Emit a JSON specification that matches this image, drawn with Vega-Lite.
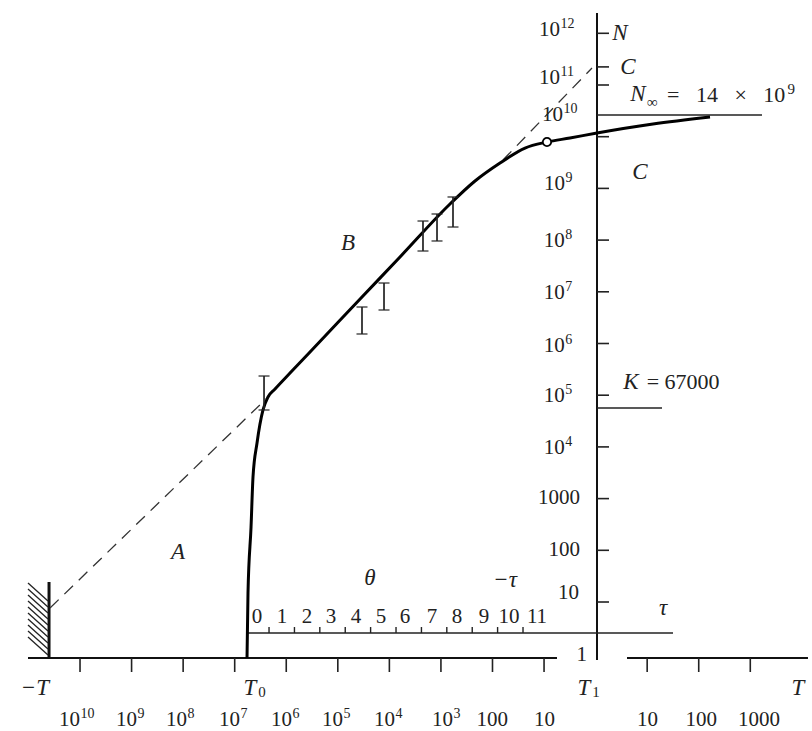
{
  "$schema": "https://vega.github.io/schema/vega-lite/v6.json",
  "width": 812,
  "height": 731,
  "padding": 0,
  "autosize": {"type": "fit", "contains": "padding"},
  "background": "white",
  "config": {"view": {"stroke": null}},
  "datasets": {
    "axes": [
      {"name": "bottom-left", "u1": -11.009, "u2": -0.749, "L1": -0.083, "L2": -0.083},
      {"name": "bottom-right", "u1": 0.609, "u2": 4.119, "L1": -0.083, "L2": -0.083},
      {"name": "N-axis", "u1": 0.027, "u2": 0.027, "L1": 12.393, "L2": -0.122}
    ],
    "wall": [
      {"name": "-T wall", "u1": -10.601, "u2": -10.601, "L1": 1.387, "L2": -0.083}
    ],
    "thin": [
      {"name": "theta axis", "u1": -6.742, "u2": 1.501, "L1": 0.4, "L2": 0.4},
      {"name": "N_inf", "u1": 0.027, "u2": 3.227, "L1": 10.42, "L2": 10.42},
      {"name": "K", "u1": 0.027, "u2": 1.288, "L1": 4.752, "L2": 4.752}
    ],
    "hatch": [
      {"u1": -11.009, "u2": -10.621, "L1": 1.368, "L2": 1.019},
      {"u1": -11.009, "u2": -10.621, "L1": 1.251, "L2": 0.903},
      {"u1": -11.009, "u2": -10.621, "L1": 1.135, "L2": 0.787},
      {"u1": -11.009, "u2": -10.621, "L1": 1.019, "L2": 0.671},
      {"u1": -11.009, "u2": -10.621, "L1": 0.903, "L2": 0.555},
      {"u1": -11.009, "u2": -10.621, "L1": 0.787, "L2": 0.439},
      {"u1": -11.009, "u2": -10.621, "L1": 0.671, "L2": 0.323},
      {"u1": -11.009, "u2": -10.621, "L1": 0.555, "L2": 0.207},
      {"u1": -11.009, "u2": -10.621, "L1": 0.439, "L2": 0.091},
      {"u1": -11.009, "u2": -10.621, "L1": 0.323, "L2": -0.025}
    ],
    "bticks": [
      {"u": -10}, {"u": -9}, {"u": -8}, {"u": -7}, {"u": -6}, {"u": -5}, {"u": -4}, {"u": -3}, {"u": -2}, {"u": -1},
      {"u": 1}, {"u": 2}, {"u": 3}
    ],
    "blabels": [
      {"u": -10.0, "b": "10", "e": "10"},
      {"u": -8.894, "b": "10", "e": "9"},
      {"u": -7.925, "b": "10", "e": "8"},
      {"u": -6.897, "b": "10", "e": "7"},
      {"u": -5.888, "b": "10", "e": "6"},
      {"u": -4.899, "b": "10", "e": "5"},
      {"u": -3.891, "b": "10", "e": "4"},
      {"u": -2.766, "b": "10", "e": "3"},
      {"u": -1.699, "b": "100", "e": ""},
      {"u": -0.787, "b": "10", "e": ""},
      {"u": 1.21, "b": "10", "e": ""},
      {"u": 2.354, "b": "100", "e": ""},
      {"u": 3.576, "b": "1000", "e": ""}
    ],
    "yticks": [
      {"L": 1}, {"L": 2}, {"L": 3}, {"L": 4}, {"L": 5}, {"L": 6}, {"L": 7}, {"L": 8}, {"L": 9}, {"L": 10},
      {"L": 11}, {"L": 11.35}, {"L": 12}
    ],
    "ylabels": [
      {"u": -0.69, "L": 12.06, "b": "10", "e": "12"},
      {"u": -0.69, "L": 11.13, "b": "10", "e": "11"},
      {"u": -0.632, "L": 10.42, "b": "10", "e": "10"},
      {"u": -0.594, "L": 9.08, "b": "10", "e": "9"},
      {"u": -0.6, "L": 7.98, "b": "10", "e": "8"},
      {"u": -0.6, "L": 6.97, "b": "10", "e": "7"},
      {"u": -0.6, "L": 5.95, "b": "10", "e": "6"},
      {"u": -0.6, "L": 4.98, "b": "10", "e": "5"},
      {"u": -0.6, "L": 3.97, "b": "10", "e": "4"},
      {"u": -0.303, "L": 3.012, "b": "1000", "e": ""},
      {"u": -0.303, "L": 2.006, "b": "100", "e": ""},
      {"u": -0.322, "L": 1.174, "b": "10", "e": ""},
      {"u": -0.167, "L": -0.025, "b": "1", "e": ""}
    ],
    "thticks": [
      {"u": -6.334}, {"u": -5.841}, {"u": -5.349}, {"u": -4.856}, {"u": -4.364}, {"u": -3.871},
      {"u": -3.378}, {"u": -2.886}, {"u": -2.393}, {"u": -1.901}, {"u": -1.408}
    ],
    "thlabels": [
      {"u": -6.567, "t": "0"}, {"u": -6.082, "t": "1"}, {"u": -5.597, "t": "2"}, {"u": -5.132, "t": "3"},
      {"u": -4.647, "t": "4"}, {"u": -4.162, "t": "5"}, {"u": -3.697, "t": "6"}, {"u": -3.173, "t": "7"},
      {"u": -2.688, "t": "8"}, {"u": -2.164, "t": "9"}, {"u": -1.68, "t": "10"}, {"u": -1.137, "t": "11"}
    ],
    "dashed": [
      {"seg": "low", "u": -10.582, "L": 0.884},
      {"seg": "low", "u": -6.354, "L": 4.965},
      {"seg": "high", "u": -1.796, "L": 9.549},
      {"seg": "high", "u": -0.07, "L": 11.329}
    ],
    "curve": [
      {"u": -6.761, "L": -0.083},
      {"u": -6.742, "L": 1.174},
      {"u": -6.683, "L": 2.451},
      {"u": -6.645, "L": 3.418},
      {"u": -6.567, "L": 4.075},
      {"u": -6.451, "L": 4.714},
      {"u": -6.354, "L": 4.965},
      {"u": -6.218, "L": 5.12},
      {"u": -5.927, "L": 5.429},
      {"u": -5.539, "L": 5.836},
      {"u": -4.531, "L": 6.899},
      {"u": -3.794, "L": 7.673},
      {"u": -2.824, "L": 8.698},
      {"u": -2.339, "L": 9.143},
      {"u": -1.854, "L": 9.491},
      {"u": -1.369, "L": 9.781},
      {"u": -0.943, "L": 9.897},
      {"u": -0.497, "L": 9.975},
      {"u": 0.027, "L": 10.072},
      {"u": 1.113, "L": 10.246},
      {"u": 2.219, "L": 10.381}
    ],
    "errors": [
      {"u": -6.431, "hi": 5.371, "lo": 4.714},
      {"u": -4.531, "hi": 6.706, "lo": 6.184},
      {"u": -4.104, "hi": 7.17, "lo": 6.648},
      {"u": -3.348, "hi": 8.369, "lo": 7.789},
      {"u": -3.076, "hi": 8.505, "lo": 7.983},
      {"u": -2.766, "hi": 8.834, "lo": 8.253}
    ],
    "circle": [{"u": -0.943, "L": 9.897}],
    "italic": [
      {"u": -10.873, "L": -0.663, "t": "−T"},
      {"u": -6.703, "L": -0.663, "t": "T"},
      {"u": -0.225, "L": -0.663, "t": "T"},
      {"u": 3.925, "L": -0.663, "t": "T"},
      {"u": -8.099, "L": 1.967, "t": "A"},
      {"u": -4.802, "L": 7.944, "t": "B"},
      {"u": 0.628, "L": 11.348, "t": "C"},
      {"u": 0.861, "L": 9.317, "t": "C"},
      {"u": 0.473, "L": 12.006, "t": "N"},
      {"u": 0.822, "L": 10.826, "t": "N"},
      {"u": 0.687, "L": 5.255, "t": "K"},
      {"u": -4.376, "L": 1.464, "t": "θ"},
      {"u": -1.757, "L": 1.426, "t": "−τ"},
      {"u": 1.307, "L": 0.884, "t": "τ"}
    ],
    "subs": [
      {"u": -6.47, "L": -0.741, "t": "0"},
      {"u": 0.008, "L": -0.741, "t": "1"},
      {"u": 1.1, "L": 10.68, "t": "∞"}
    ],
    "plain": [
      {"u": 1.385, "L": 10.807, "t": "=\u2002 14\u2002 ×\u2002 10"},
      {"u": 0.99, "L": 5.255, "t": "= 67000"}
    ],
    "plainsup": [
      {"u": 3.72, "L": 10.93, "t": "9"}
    ]
  },
  "layer": [
    {
      "data": {"name": "axes"},
      "mark": {"type": "rule", "color": "#111", "strokeWidth": 2},
      "encoding": {
        "x": {"field": "u1", "type": "quantitative", "axis": null, "scale": {"domain": [-11.552, 4.197], "nice": false, "zero": false}},
        "x2": {"field": "u2"},
        "y": {"field": "L1", "type": "quantitative", "axis": null, "scale": {"domain": [-1.495, 12.644], "nice": false, "zero": false}},
        "y2": {"field": "L2"}
      }
    },
    {
      "data": {"name": "wall"},
      "mark": {"type": "rule", "color": "#111", "strokeWidth": 3},
      "encoding": {
        "x": {"field": "u1", "type": "quantitative", "axis": null, "scale": {"domain": [-11.552, 4.197], "nice": false, "zero": false}},
        "x2": {"field": "u2"},
        "y": {"field": "L1", "type": "quantitative", "axis": null, "scale": {"domain": [-1.495, 12.644], "nice": false, "zero": false}},
        "y2": {"field": "L2"}
      }
    },
    {
      "data": {"name": "thin"},
      "mark": {"type": "rule", "color": "#222", "strokeWidth": 1.6},
      "encoding": {
        "x": {"field": "u1", "type": "quantitative", "axis": null, "scale": {"domain": [-11.552, 4.197], "nice": false, "zero": false}},
        "x2": {"field": "u2"},
        "y": {"field": "L1", "type": "quantitative", "axis": null, "scale": {"domain": [-1.495, 12.644], "nice": false, "zero": false}},
        "y2": {"field": "L2"}
      }
    },
    {
      "data": {"name": "hatch"},
      "mark": {"type": "rule", "color": "#222", "strokeWidth": 1.3},
      "encoding": {
        "x": {"field": "u1", "type": "quantitative", "axis": null, "scale": {"domain": [-11.552, 4.197], "nice": false, "zero": false}},
        "x2": {"field": "u2"},
        "y": {"field": "L1", "type": "quantitative", "axis": null, "scale": {"domain": [-1.495, 12.644], "nice": false, "zero": false}},
        "y2": {"field": "L2"}
      }
    },
    {
      "data": {"name": "bticks"},
      "mark": {"type": "rule", "color": "#222", "strokeWidth": 1.6},
      "encoding": {
        "x": {"field": "u", "type": "quantitative", "axis": null, "scale": {"domain": [-11.552, 4.197], "nice": false, "zero": false}},
        "y": {"datum": -0.083, "type": "quantitative", "axis": null, "scale": {"domain": [-1.495, 12.644], "nice": false, "zero": false}},
        "y2": {"datum": -0.354}
      }
    },
    {
      "data": {"name": "yticks"},
      "mark": {"type": "rule", "color": "#222", "strokeWidth": 1.6},
      "encoding": {
        "x": {"datum": 0.027, "type": "quantitative", "axis": null, "scale": {"domain": [-11.552, 4.197], "nice": false, "zero": false}},
        "x2": {"datum": 0.26},
        "y": {"field": "L", "type": "quantitative", "axis": null, "scale": {"domain": [-1.495, 12.644], "nice": false, "zero": false}}
      }
    },
    {
      "data": {"name": "thticks"},
      "mark": {"type": "rule", "color": "#222", "strokeWidth": 1.4},
      "encoding": {
        "x": {"field": "u", "type": "quantitative", "axis": null, "scale": {"domain": [-11.552, 4.197], "nice": false, "zero": false}},
        "y": {"datum": 0.4, "type": "quantitative", "axis": null, "scale": {"domain": [-1.495, 12.644], "nice": false, "zero": false}},
        "y2": {"datum": 0.516}
      }
    },
    {
      "data": {"name": "dashed"},
      "mark": {"type": "line", "color": "#333", "strokeWidth": 1.3, "strokeDash": [12, 8]},
      "encoding": {
        "x": {"field": "u", "type": "quantitative", "axis": null, "scale": {"domain": [-11.552, 4.197], "nice": false, "zero": false}},
        "y": {"field": "L", "type": "quantitative", "axis": null, "scale": {"domain": [-1.495, 12.644], "nice": false, "zero": false}},
        "detail": {"field": "seg", "type": "nominal"}
      }
    },
    {
      "data": {"name": "curve"},
      "mark": {"type": "line", "color": "#000", "strokeWidth": 3, "interpolate": "monotone"},
      "encoding": {
        "x": {"field": "u", "type": "quantitative", "axis": null, "scale": {"domain": [-11.552, 4.197], "nice": false, "zero": false}},
        "y": {"field": "L", "type": "quantitative", "axis": null, "scale": {"domain": [-1.495, 12.644], "nice": false, "zero": false}},
        "order": {"field": "u", "type": "quantitative"}
      }
    },
    {
      "data": {"name": "errors"},
      "mark": {"type": "rule", "color": "#222", "strokeWidth": 1.7},
      "encoding": {
        "x": {"field": "u", "type": "quantitative", "axis": null, "scale": {"domain": [-11.552, 4.197], "nice": false, "zero": false}},
        "y": {"field": "lo", "type": "quantitative", "axis": null, "scale": {"domain": [-1.495, 12.644], "nice": false, "zero": false}},
        "y2": {"field": "hi"}
      }
    },
    {
      "data": {"name": "errors"},
      "mark": {"type": "tick", "orient": "horizontal", "color": "#222", "size": 11, "thickness": 1.7},
      "encoding": {
        "x": {"field": "u", "type": "quantitative", "axis": null, "scale": {"domain": [-11.552, 4.197], "nice": false, "zero": false}},
        "y": {"field": "lo", "type": "quantitative", "axis": null, "scale": {"domain": [-1.495, 12.644], "nice": false, "zero": false}}
      }
    },
    {
      "data": {"name": "errors"},
      "mark": {"type": "tick", "orient": "horizontal", "color": "#222", "size": 11, "thickness": 1.7},
      "encoding": {
        "x": {"field": "u", "type": "quantitative", "axis": null, "scale": {"domain": [-11.552, 4.197], "nice": false, "zero": false}},
        "y": {"field": "hi", "type": "quantitative", "axis": null, "scale": {"domain": [-1.495, 12.644], "nice": false, "zero": false}}
      }
    },
    {
      "data": {"name": "circle"},
      "mark": {"type": "point", "filled": true, "fill": "white", "stroke": "#000", "strokeWidth": 1.8, "size": 70, "opacity": 1},
      "encoding": {
        "x": {"field": "u", "type": "quantitative", "axis": null, "scale": {"domain": [-11.552, 4.197], "nice": false, "zero": false}},
        "y": {"field": "L", "type": "quantitative", "axis": null, "scale": {"domain": [-1.495, 12.644], "nice": false, "zero": false}}
      }
    },
    {
      "data": {"name": "blabels"},
      "mark": {"type": "text", "font": "Liberation Serif", "fontSize": 21, "color": "#222", "align": "right", "baseline": "middle"},
      "encoding": {
        "x": {"field": "u", "type": "quantitative", "axis": null, "scale": {"domain": [-11.552, 4.197], "nice": false, "zero": false}},
        "y": {"datum": -1.282, "type": "quantitative", "axis": null, "scale": {"domain": [-1.495, 12.644], "nice": false, "zero": false}},
        "text": {"field": "b"}
      }
    },
    {
      "data": {"name": "blabels"},
      "mark": {"type": "text", "font": "Liberation Serif", "fontSize": 14, "color": "#222", "align": "left", "baseline": "middle", "dx": 0.5, "dy": -6},
      "encoding": {
        "x": {"field": "u", "type": "quantitative", "axis": null, "scale": {"domain": [-11.552, 4.197], "nice": false, "zero": false}},
        "y": {"datum": -1.282, "type": "quantitative", "axis": null, "scale": {"domain": [-1.495, 12.644], "nice": false, "zero": false}},
        "text": {"field": "e"}
      }
    },
    {
      "data": {"name": "ylabels"},
      "mark": {"type": "text", "font": "Liberation Serif", "fontSize": 21, "color": "#222", "align": "right", "baseline": "middle"},
      "encoding": {
        "x": {"field": "u", "type": "quantitative", "axis": null, "scale": {"domain": [-11.552, 4.197], "nice": false, "zero": false}},
        "y": {"field": "L", "type": "quantitative", "axis": null, "scale": {"domain": [-1.495, 12.644], "nice": false, "zero": false}},
        "text": {"field": "b"}
      }
    },
    {
      "data": {"name": "ylabels"},
      "mark": {"type": "text", "font": "Liberation Serif", "fontSize": 14, "color": "#222", "align": "left", "baseline": "middle", "dx": 0.5, "dy": -6},
      "encoding": {
        "x": {"field": "u", "type": "quantitative", "axis": null, "scale": {"domain": [-11.552, 4.197], "nice": false, "zero": false}},
        "y": {"field": "L", "type": "quantitative", "axis": null, "scale": {"domain": [-1.495, 12.644], "nice": false, "zero": false}},
        "text": {"field": "e"}
      }
    },
    {
      "data": {"name": "thlabels"},
      "mark": {"type": "text", "font": "Liberation Serif", "fontSize": 21, "color": "#222", "align": "center", "baseline": "middle"},
      "encoding": {
        "x": {"field": "u", "type": "quantitative", "axis": null, "scale": {"domain": [-11.552, 4.197], "nice": false, "zero": false}},
        "y": {"datum": 0.71, "type": "quantitative", "axis": null, "scale": {"domain": [-1.495, 12.644], "nice": false, "zero": false}},
        "text": {"field": "t"}
      }
    },
    {
      "data": {"name": "italic"},
      "mark": {"type": "text", "font": "Liberation Serif", "fontStyle": "italic", "fontSize": 23, "color": "#222", "align": "center", "baseline": "middle"},
      "encoding": {
        "x": {"field": "u", "type": "quantitative", "axis": null, "scale": {"domain": [-11.552, 4.197], "nice": false, "zero": false}},
        "y": {"field": "L", "type": "quantitative", "axis": null, "scale": {"domain": [-1.495, 12.644], "nice": false, "zero": false}},
        "text": {"field": "t"}
      }
    },
    {
      "data": {"name": "subs"},
      "mark": {"type": "text", "font": "Liberation Serif", "fontSize": 15, "color": "#222", "align": "center", "baseline": "middle"},
      "encoding": {
        "x": {"field": "u", "type": "quantitative", "axis": null, "scale": {"domain": [-11.552, 4.197], "nice": false, "zero": false}},
        "y": {"field": "L", "type": "quantitative", "axis": null, "scale": {"domain": [-1.495, 12.644], "nice": false, "zero": false}},
        "text": {"field": "t"}
      }
    },
    {
      "data": {"name": "plain"},
      "mark": {"type": "text", "font": "Liberation Serif", "fontSize": 22, "color": "#222", "align": "left", "baseline": "middle"},
      "encoding": {
        "x": {"field": "u", "type": "quantitative", "axis": null, "scale": {"domain": [-11.552, 4.197], "nice": false, "zero": false}},
        "y": {"field": "L", "type": "quantitative", "axis": null, "scale": {"domain": [-1.495, 12.644], "nice": false, "zero": false}},
        "text": {"field": "t"}
      }
    },
    {
      "data": {"name": "plainsup"},
      "mark": {"type": "text", "font": "Liberation Serif", "fontSize": 15, "color": "#222", "align": "left", "baseline": "middle"},
      "encoding": {
        "x": {"field": "u", "type": "quantitative", "axis": null, "scale": {"domain": [-11.552, 4.197], "nice": false, "zero": false}},
        "y": {"field": "L", "type": "quantitative", "axis": null, "scale": {"domain": [-1.495, 12.644], "nice": false, "zero": false}},
        "text": {"field": "t"}
      }
    }
  ]
}
